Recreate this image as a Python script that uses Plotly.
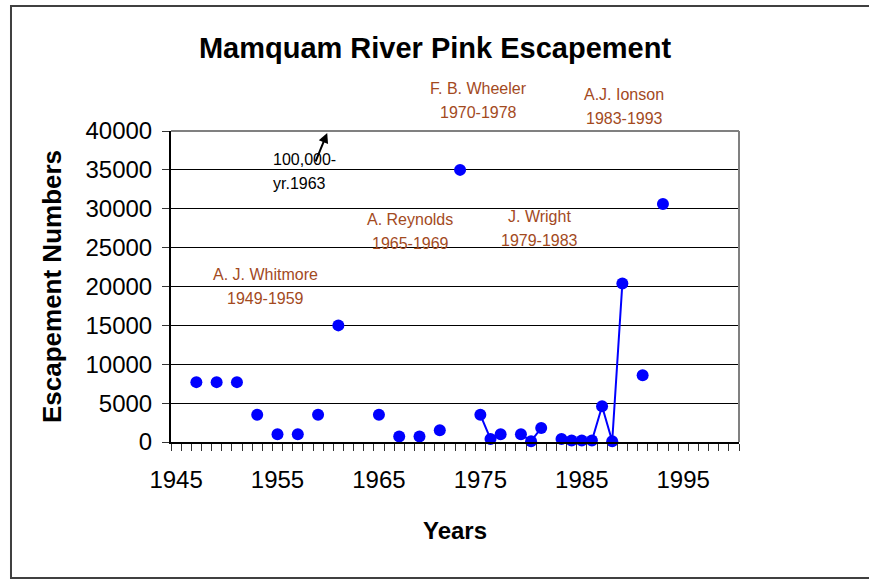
import plotly.graph_objects as go

# ---- data ----
years = list(range(1947, 1994))
escapement = {
    1947: 7700, 1949: 7700, 1951: 7700, 1953: 3500, 1955: 1000, 1957: 1000,
    1959: 3500, 1961: 15000, 1965: 3500, 1967: 700, 1969: 700, 1971: 1500,
    1973: 35000, 1975: 3500, 1976: 400, 1977: 1000, 1979: 1000, 1980: 100,
    1981: 1800, 1983: 400, 1984: 200, 1985: 200, 1986: 200, 1987: 4600,
    1988: 100, 1989: 20400, 1991: 8600, 1993: 30600,
}
values = [escapement.get(y) for y in years]

x_tick_years = [1945, 1955, 1965, 1975, 1985, 1995]
y_ticks = [0, 5000, 10000, 15000, 20000, 25000, 30000, 35000, 40000]
y_tick_labels = [str(v) for v in y_ticks]

observer_names = ["A. J. Whitmore", "A. Reynolds", "F. B. Wheeler", "J. Wright", "A.J. Ionson"]
observer_spans = ["1949-1959", "1965-1969", "1970-1978", "1979-1983", "1983-1993"]
# label centres: x in years, y in paper fraction of plot height
observer_x = [1953.8, 1968.1, 1974.8, 1980.8, 1989.2]
observer_y = [0.500, 0.678, 1.098, 0.687, 1.080]

BLUE = "#0000FF"
BROWN = "#A34A1E"
FONT = "Liberation Sans, Arial, sans-serif"

fig = go.Figure()
fig.add_trace(go.Scatter(
    x=years, y=values, mode="lines+markers",
    line=dict(color=BLUE, width=2),
    marker=dict(color=BLUE, size=12),
    connectgaps=False, showlegend=False, cliponaxis=False,
))

annotations = []
for name, span, ox, oy in zip(observer_names, observer_spans, observer_x, observer_y):
    for txt, shift in ((name, 12), (span, -12)):
        annotations.append(dict(
            x=ox, y=oy, xref="x", yref="paper", yshift=shift, text=txt,
            showarrow=False, font=dict(family=FONT, size=16, color=BROWN),
            xanchor="center", yanchor="middle",
        ))
for txt, shift in (("100,000-", 12), ("yr.1963", -12)):
    annotations.append(dict(
        x=1954.4, y=0.871, xref="x", yref="paper", yshift=shift, text=txt,
        showarrow=False, font=dict(family=FONT, size=16, color="black"),
        xanchor="left", yanchor="middle",
    ))
annotations.append(dict(
    x=1959.9, y=39750, xref="x", yref="y", ax=1958.7, ay=35900,
    axref="x", ayref="y", text="", showarrow=True,
    arrowhead=2, arrowsize=1, arrowwidth=2, arrowcolor="black",
))

fig.update_layout(
    width=869, height=580,
    margin=dict(l=171, r=130, t=131, b=138),
    paper_bgcolor="white", plot_bgcolor="white",
    font=dict(family=FONT, color="black"),
    title=dict(
        text="<b>Mamquam River Pink Escapement</b>",
        font=dict(family=FONT, size=29, color="black"),
        x=435 / 869, xref="container", xanchor="center",
        y=1 - 48 / 580, yref="container", yanchor="middle",
    ),
    xaxis=dict(
        range=[1944.5, 2000.5], tickmode="array", tickvals=x_tick_years,
        ticks="", showgrid=False, zeroline=False,
        showline=True, linecolor="black", linewidth=2,
        tickfont=dict(family=FONT, size=24, color="black"),
        ticklabelstandoff=15,
        minor=dict(ticks="outside", tick0=1944.5, dtick=1, ticklen=7,
                   tickcolor="#333333", tickwidth=1, showgrid=False),
        title=dict(text="<b>Years</b>", font=dict(family=FONT, size=24, color="black"),
                   standoff=30),
    ),
    yaxis=dict(
        range=[0, 40000], tickmode="array", tickvals=y_ticks, ticktext=y_tick_labels,
        ticks="outside", ticklen=7, tickcolor="#333333", tickwidth=1,
        showgrid=True, gridcolor="black", gridwidth=1, zeroline=False,
        showline=True, linecolor="black", linewidth=2,
        tickfont=dict(family=FONT, size=24, color="black"),
        ticklabelstandoff=5,
        title=dict(text="<b>Escapement Numbers</b>", font=dict(family=FONT, size=26, color="black"),
                   standoff=16),
    ),
    annotations=annotations,
    shapes=[
        dict(type="line", xref="paper", yref="paper", x0=0, x1=1, y0=1, y1=1,
             line=dict(color="#808080", width=2), layer="above"),
        dict(type="line", xref="paper", yref="paper", x0=1, x1=1, y0=0, y1=1,
             line=dict(color="#808080", width=2), layer="above"),
        dict(type="rect", xref="paper", yref="paper", x0=-0.2817, x1=1.35, y0=-0.437, y1=1.402,
             line=dict(color="#404040", width=2), fillcolor="rgba(0,0,0,0)", layer="above"),
    ],
)

fig.write_html("out.html", config={"displayModeBar": False},
               post_script="document.body.style.margin='0';")
